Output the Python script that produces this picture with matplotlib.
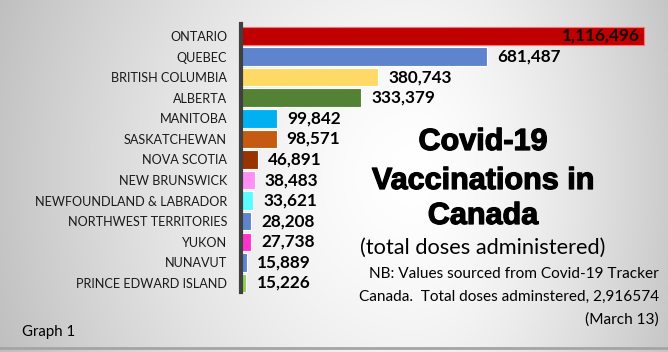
import numpy as np
import matplotlib
matplotlib.use("Agg")
import matplotlib.pyplot as plt
import matplotlib.patheffects as pe

provinces = ["ONTARIO", "QUEBEC", "BRITISH COLUMBIA", "ALBERTA", "MANITOBA",
             "SASKATCHEWAN", "NOVA SCOTIA", "NEW BRUNSWICK",
             "NEWFOUNDLAND & LABRADOR", "NORTHWEST TERRITORIES", "YUKON",
             "NUNAVUT", "PRINCE EDWARD ISLAND"]
doses = [1116496, 681487, 380743, 333379, 99842, 98571, 46891, 38483,
         33621, 28208, 27738, 15889, 15226]
colors = ["#C00000", "#5F84CE", "#FFD966", "#548235", "#00B0F0", "#C55A11",
          "#993300", "#FF8EF5", "#5CFCFC", "#5F84CE", "#FF33CC", "#5F84CE",
          "#92D050"]

W, H = 668, 352
fig = plt.figure(figsize=(W / 100, H / 100), dpi=100)

# background gradient
bg = fig.add_axes([0, 0, 1, 1])
xs = np.linspace(0, 1, 400)
ys = np.linspace(0, 1, 220)
X, Y = np.meshgrid(xs, ys)
cxg = 0.62
sx = np.where(X < cxg, 0.75, 0.5)
d = np.sqrt(((X - cxg) / sx) ** 2 + ((Y - 0.5) / 1.6) ** 2)
val = 1.0 - 0.3 * np.clip(d, 0, 1.2) ** 1.5
bg.imshow(np.dstack([val, val, val]), extent=[0, 1, 0, 1], aspect="auto",
          origin="lower", vmin=0, vmax=1)
bg.axhline(1 - 348 / H, color="#a4a4a4", lw=2)
bg.set_xlim(0, 1)
bg.set_ylim(0, 1)
bg.axis("off")

# bar axes
x0, x1 = 241, 668
y_top, y_bot = 24, 292
ax = fig.add_axes([x0 / W, 1 - y_bot / H, (x1 - x0) / W, (y_bot - y_top) / H])
ax.patch.set_alpha(0)
scale_px = 403 / doses[0]
ax.set_xlim(0, (x1 - x0) / scale_px)
ax.set_ylim(12.44, -0.58)
ypos = np.arange(len(provinces))
edges = ["#FF7070"] + ["#FFFFFF"] * (len(provinces) - 1)
ax.barh(ypos, doses, height=0.9, color=colors, edgecolor=edges, linewidth=0.8)
for s in ["top", "right", "bottom"]:
    ax.spines[s].set_visible(False)
ax.spines["left"].set_color("#404040")
ax.spines["left"].set_linewidth(3)
ax.set_xticks([])
ax.set_yticks(ypos)
ax.set_yticklabels(provinces, fontsize=9.1, family="Lato", color="#1a1a1a")
ax.tick_params(axis="y", length=0, pad=10)

for i, v in enumerate(doses):
    lab = f"{v:,}"
    if i == 0:
        ax.text(v - 4 / scale_px, i, lab, ha="right", va="center",
                fontsize=12.3, fontweight="bold", family="Lato", color="#111111")
    else:
        ax.text(v + 10 / scale_px, i, lab, ha="left", va="center",
                fontsize=12.3, fontweight="bold", family="Lato", color="black")

# title block
cx = 483 / W
for txt, yy in [("Covid-19", 142), ("Vaccinations in", 181), ("Canada", 216)]:
    fig.text(cx, 1 - yy / H, txt, ha="center", va="center", fontsize=22,
             fontweight="bold", family="Liberation Sans", color="black",
             path_effects=[pe.withStroke(linewidth=0.9, foreground="black")])
fig.text(cx, 1 - 248 / H, "(total doses administered)", ha="center",
         va="center", fontsize=15.7, family="Lato", color="black")
for txt, yy in [("NB: Values sourced from Covid-19 Tracker", 274),
                ("Canada.  Total doses adminstered, 2,916574", 297),
                ("(March 13)", 320)]:
    fig.text(659 / W, 1 - yy / H, txt, ha="right", va="center", fontsize=11.1,
             family="Lato", color="black")
fig.text(22 / W, 1 - 332 / H, "Graph 1", ha="left", va="center",
         fontsize=10.8, family="Lato", color="black")

fig.savefig("out.png", dpi=100)
